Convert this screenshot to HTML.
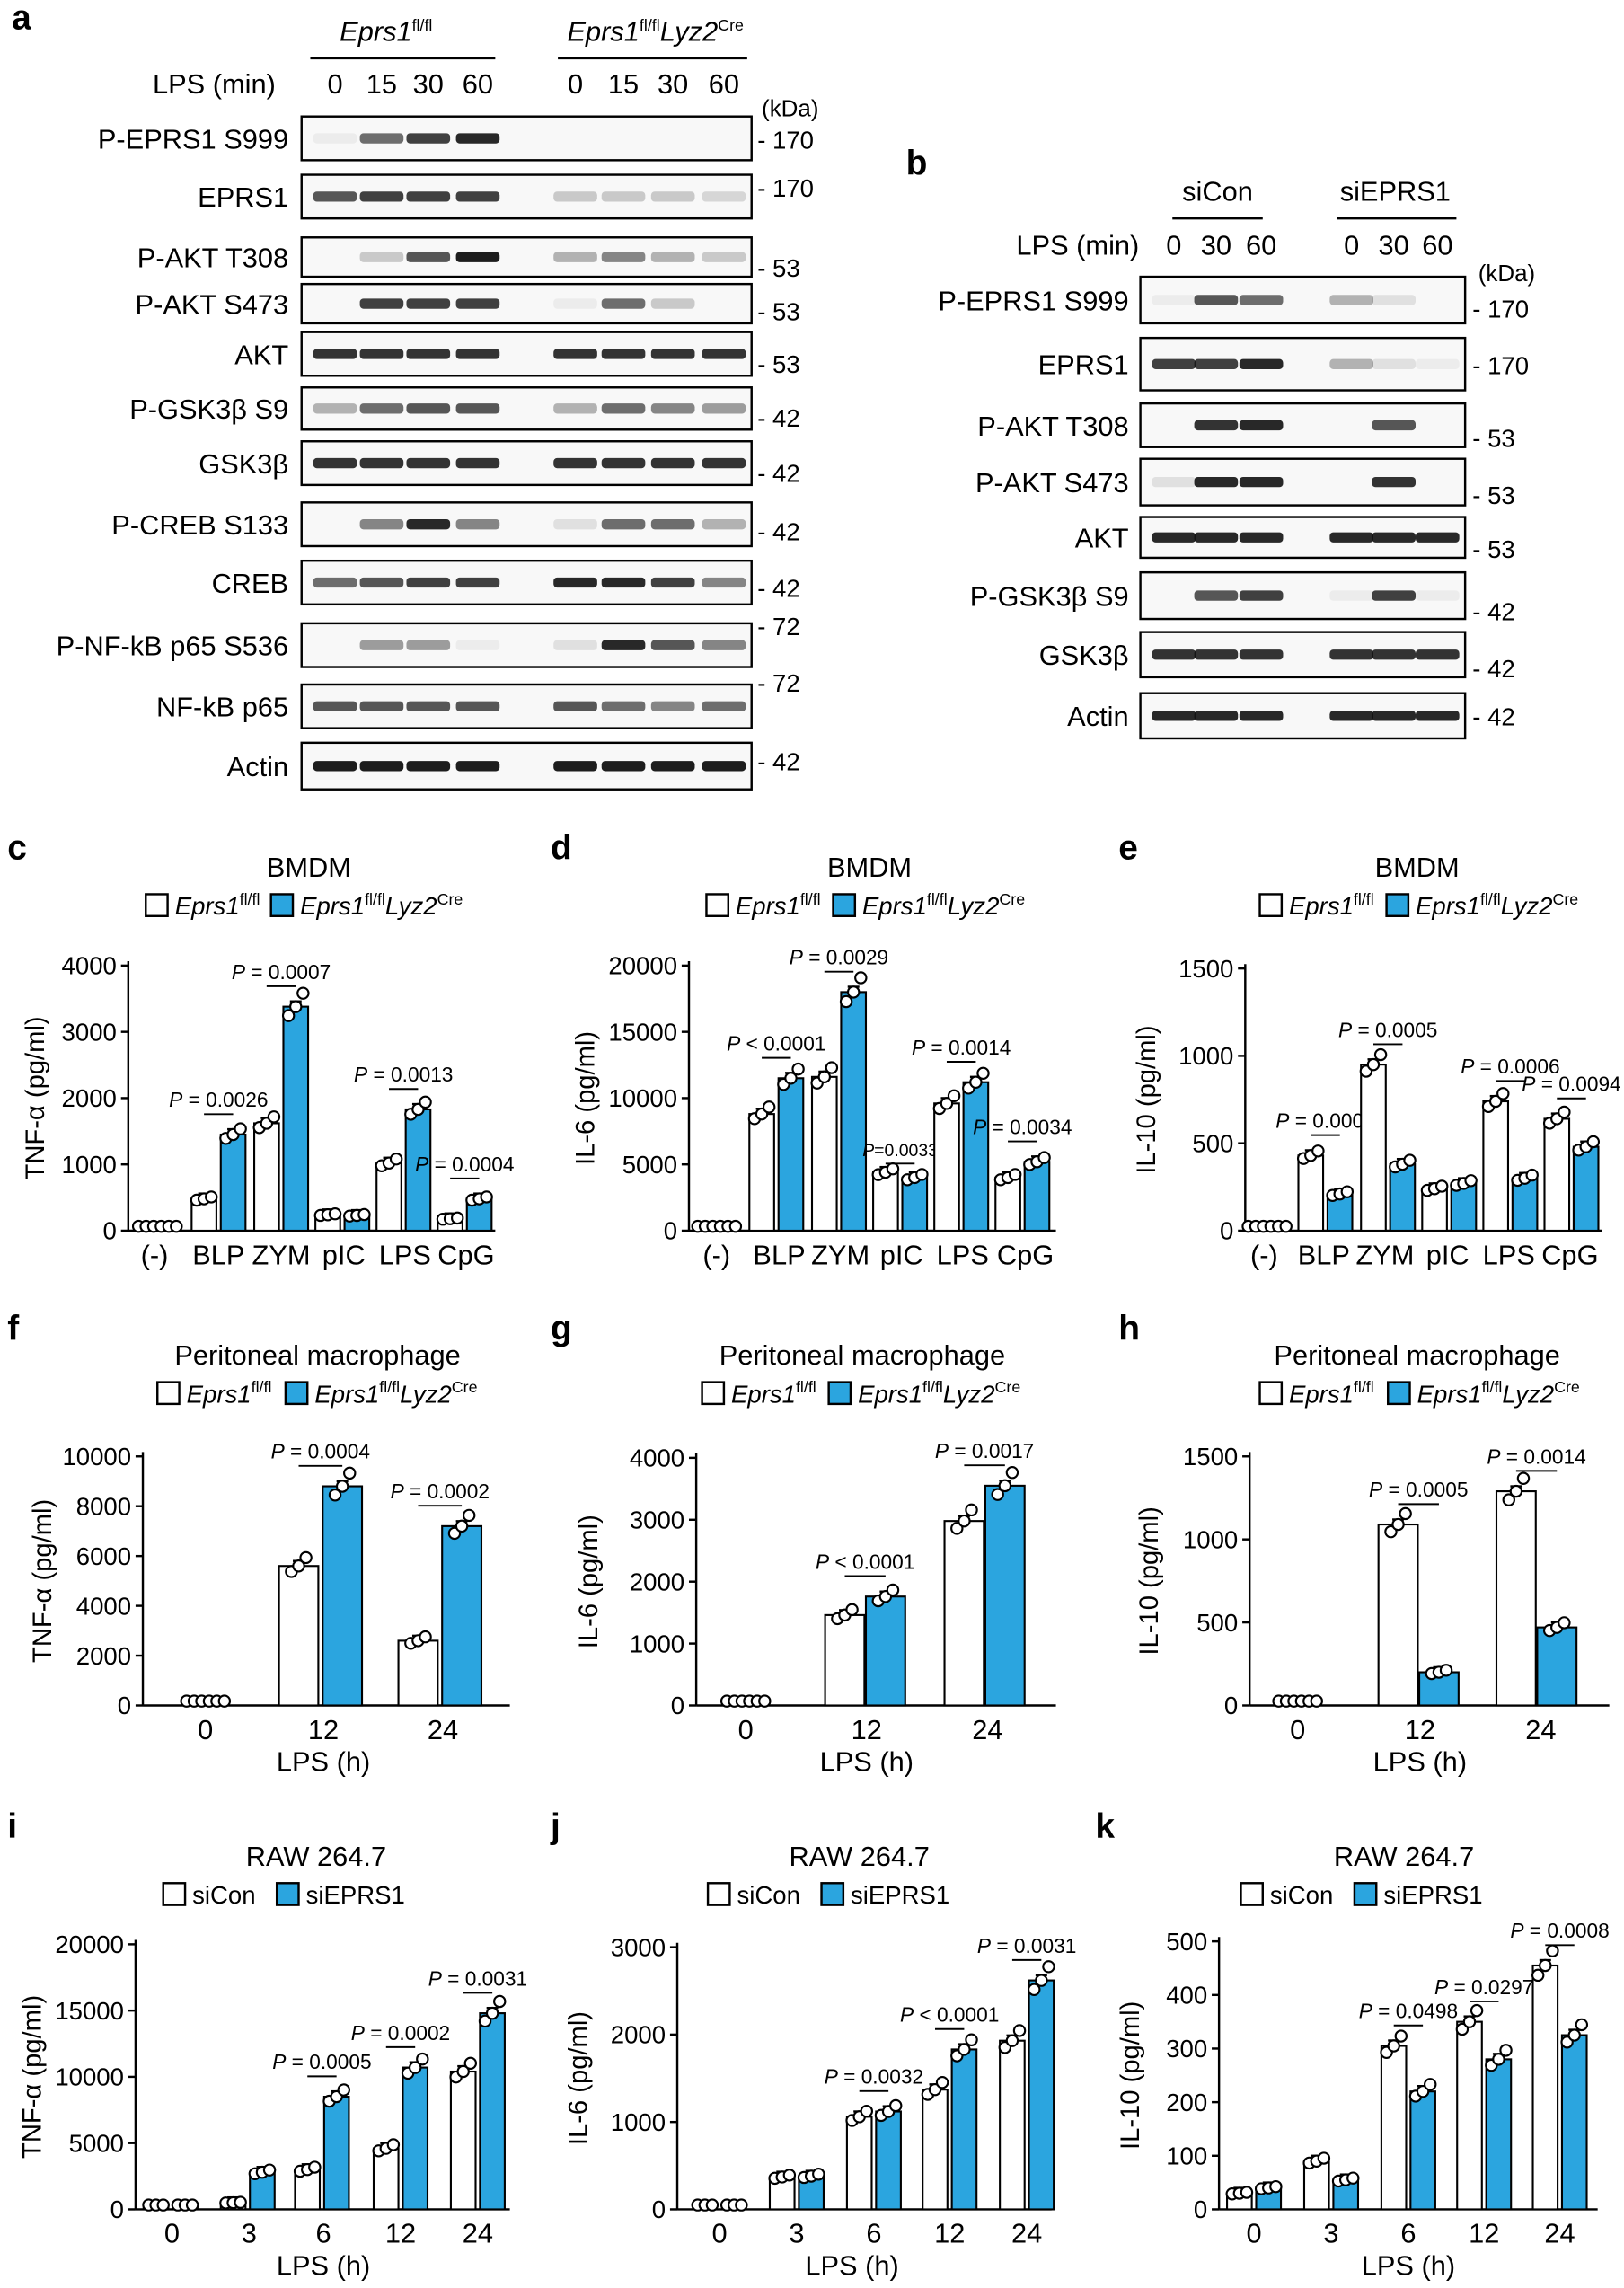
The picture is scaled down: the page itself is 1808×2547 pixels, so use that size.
<!DOCTYPE html>
<html><head><meta charset="utf-8"><style>html,body{margin:0;padding:0;background:#fff}svg{display:block}</style></head>
<body>
<svg id="s" xmlns="http://www.w3.org/2000/svg" width="1808" height="2547" viewBox="0 0 1115 1571" font-family="Liberation Sans, Arial, sans-serif">
<rect width="1115" height="1571" fill="#fff"/>
</svg>
<script>
const S=document.getElementById('s');let h='';
const BLUE='#2ba5df';
function T(x,y,t,o){o=o||{};h+=`<text x="${x}" y="${y}" font-size="${o.s||19}" text-anchor="${o.a||'start'}" ${o.w?'font-weight="bold"':''} ${o.i?'font-style="italic"':''} ${o.r?`transform="rotate(-90 ${x} ${y})"`:''}>${t}</text>`;}
function L(x1,y1,x2,y2,w){h+=`<line x1="${x1}" y1="${y1}" x2="${x2}" y2="${y2}" stroke="#000" stroke-width="${w||1.5}"/>`;}
function R(x,y,w,hh,f,sw){h+=`<rect x="${x}" y="${y}" width="${w}" height="${hh}" fill="${f}" stroke="#000" stroke-width="${sw||1.3}"/>`;}
function C(x,y){h+=`<circle cx="${x}" cy="${y}" r="3.8" fill="#fff" stroke="#000" stroke-width="1.3"/>`;}
const EP='<tspan font-style="italic">Eprs1</tspan><tspan font-size="11" dy="-7">fl/fl</tspan>';
const EPL='<tspan font-style="italic">Eprs1</tspan><tspan font-size="11" dy="-7">fl/fl</tspan><tspan font-style="italic" dy="7">Lyz2</tspan><tspan font-size="11" dy="-7">Cre</tspan>';
[['a',8,20],['b',622,120],['c',5,590],['d',378,590],['e',768,590],['f',5,920],['g',378,920],['h',768,920],['i',5,1262],['j',378,1262],['k',752,1262]].forEach(p=>T(p[1],p[2],p[0],{s:24,w:1}));
function row(x1,x2,y1,y2,lanes,int,label,lx){R(x1,y1,x2-x1,y2-y1,'#f8f8f8',1.5);const cy=(y1+y2)/2;
 lanes.forEach((lx2,i)=>{const v=int[i];if(v>0.02)h+=`<rect x="${lx2-15}" y="${cy-3.5}" width="30" height="7" rx="2.5" fill="#111" opacity="${v}"/>`;});
 T(lx,cy+7,label,{a:'end',s:19});}
const la=[230,262,294,328,395,428,462,497];
T(265,28,EP,{a:'middle',s:19});L(213,40,340,40);
T(450,28,EPL,{a:'middle',s:19});L(383,40,513,40);
T(147,64,'LPS (min)',{a:'middle'});
['0','15','30','60','0','15','30','60'].forEach((t,i)=>T(la[i],64,t,{a:'middle'}));
const ra=[['P-EPRS1 S999',80,110,[.05,.6,.8,.9,0,0,0,0]],['EPRS1',120,150,[.7,.8,.8,.8,.2,.2,.2,.15]],['P-AKT T308',163,190,[0,.2,.7,.95,.3,.5,.3,.2]],['P-AKT S473',195,222,[0,.8,.8,.8,.05,.6,.2,0]],['AKT',228,258,[.85,.85,.85,.85,.85,.85,.85,.85]],['P-GSK3β S9',266,295,[.3,.6,.7,.7,.3,.6,.5,.4]],['GSK3β',303,333,[.85,.85,.85,.85,.85,.85,.85,.85]],['P-CREB S133',345,375,[0,.5,.9,.5,.1,.6,.6,.3]],['CREB',385,415,[.6,.7,.8,.8,.9,.9,.8,.5]],['P-NF-kB p65 S536',428,458,[0,.4,.4,.05,.1,.9,.7,.5]],['NF-kB p65',470,500,[.7,.7,.7,.7,.7,.6,.5,.6]],['Actin',510,542,[.95,.95,.95,.95,.95,.95,.95,.95]]];
ra.forEach(r=>row(207,516,r[1],r[2],la,r[3],r[0],198));
T(523,80,'(kDa)',{s:16});
[['- 170',102],['- 170',135],['- 53',190],['- 53',220],['- 53',256],['- 42',293],['- 42',331],['- 42',371],['- 42',410],['- 72',436],['- 72',475],['- 42',529]].forEach(k=>T(520,k[1],k[0],{s:17}));
const lb=[806,835,866,928,957,987];
T(836,138,'siCon',{a:'middle'});L(805,150,867,150);
T(958,138,'siEPRS1',{a:'middle'});L(918,150,1000,150);
T(740,175,'LPS (min)',{a:'middle'});
['0','30','60','0','30','60'].forEach((t,i)=>T(lb[i],175,t,{a:'middle'}));
const rb=[['P-EPRS1 S999',190,222,[.05,.7,.6,.3,.1,0]],['EPRS1',232,268,[.8,.8,.9,.3,.1,.05]],['P-AKT T308',277,307,[0,.85,.9,0,.7,0]],['P-AKT S473',315,347,[.1,.9,.9,0,.85,0]],['AKT',355,383,[.9,.9,.9,.9,.9,.9]],['P-GSK3β S9',393,425,[0,.7,.8,.05,.8,.05]],['GSK3β',434,465,[.85,.85,.85,.85,.85,.85]],['Actin',476,507,[.9,.9,.9,.9,.9,.9]]];
rb.forEach(r=>row(783,1006,r[1],r[2],lb,r[3],r[0],775));
T(1015,193,'(kDa)',{s:16});
[['- 170',218],['- 170',257],['- 53',307],['- 53',346],['- 53',383],['- 42',426],['- 42',465],['- 42',498]].forEach(k=>T(1011,k[1],k[0],{s:17}));
function chart(o){const {ax,yT,y0,max,ticks,groups,bw,off,xl,xly,title,tx,ty,leg,ylab,yl}=o;
 const Y=v=>y0-(v/max)*(y0-yT);
 T(tx,ty,title,{a:'middle'});
 const lx=o.lx,ly=ty+26;R(lx,ly-14,15,15,'#fff',1.5);T(lx+20,ly,leg[0],{s:17});R(o.lx2,ly-14,15,15,BLUE,1.5);T(o.lx2+20,ly,leg[1],{s:17});
 L(ax,yT-3,ax,y0);
 ticks.forEach(t=>{const y=Y(t);L(ax-5,y,ax,y);T(ax-8,y+6,t,{a:'end',s:17});});
 T(yl,(yT+y0)/2,ylab,{a:'middle',r:1,s:18});
 L(ax,y0,o.xend,y0);
 groups.forEach(g=>{
  if(g.none){[0,1,2,3,4,5].forEach(i=>C(g.cx-13+i*5.2,y0-3));return;}
  const xw=g.cx-off,xb=g.cx+off;
  [[xw,g.w,'#fff'],[xb,g.b,BLUE]].forEach(([x,v,f])=>{const y=Y(v);
   if(y0-y>0.5)R(x-bw/2,y,bw,y0-y,f,1.3);
   const e=(y0-yT)*0.02;L(x,y-e,x,y);L(x-4,y-e,x+4,y-e);
   const sp=[-v*0.04,v*0.0,v*0.06];const dx=[-5,0,5];
   dx.forEach((d,i)=>{let yy=Y(v+sp[i]);if(yy>y0-3)yy=y0-3;C(x+d,yy);});
  });
  if(g.p){const yl2=Y(Math.max(g.w,g.b))-(g.pd||14);L(xw,yl2,xb,yl2,1.2);T(g.cx,yl2-5,g.p,{a:'middle',s:g.ps||14});}
 });
 xl.forEach(l=>T(l[1],xly,l[0],{a:'middle',s:19}));
 if(o.xt)T(o.xtx,xly+22,o.xt,{a:'middle',s:19});
}
const legE=[EP,EPL],legS=['siCon','siEPRS1'];
const P=s=>'<tspan font-style="italic">P</tspan>'+s;
chart({ax:88,yT:663,y0:845,max:4000,ticks:[0,1000,2000,3000,4000],bw:17,off:10,xend:340,title:'BMDM',tx:212,ty:602,leg:legE,lx:100,lx2:186,ylab:'TNF-α (pg/ml)',yl:30,xly:868,
 groups:[{cx:108,none:1},{cx:150,w:480,b:1450,p:P(' = 0.0026')},{cx:193,w:1620,b:3380,p:P(' = 0.0007')},{cx:235,w:240,b:230},{cx:277,w:1020,b:1830,p:P(' = 0.0013')},{cx:319,w:180,b:480,p:P(' = 0.0004')}],
 xl:[['(-)',106],['BLP',150],['ZYM',193],['pIC',236],['LPS',278],['CpG',320]]});
chart({ax:473,yT:663,y0:845,max:20000,ticks:[0,5000,10000,15000,20000],bw:17,off:10,xend:725,title:'BMDM',tx:597,ty:602,leg:legE,lx:485,lx2:572,ylab:'IL-6 (pg/ml)',yl:408,xly:868,
 groups:[{cx:492,none:1},{cx:533,w:8800,b:11500,p:P(' &lt; 0.0001')},{cx:576,w:11600,b:18000,p:P(' = 0.0029')},{cx:618,w:4400,b:4000,p:P('=0.0033'),ps:12,pd:6},{cx:660,w:9600,b:11200,p:P(' = 0.0014')},{cx:702,w:4000,b:5200,p:P(' = 0.0034')}],
 xl:[['(-)',492],['BLP',535],['ZYM',577],['pIC',619],['LPS',661],['CpG',704]]});
chart({ax:855,yT:665,y0:845,max:1500,ticks:[0,500,1000,1500],bw:17,off:10,xend:1100,title:'BMDM',tx:973,ty:602,leg:legE,lx:865,lx2:952,ylab:'IL-10 (pg/ml)',yl:793,xly:868,
 groups:[{cx:870,none:1},{cx:910,w:430,b:210,p:P(' = 0.0006')},{cx:953,w:950,b:380,p:P(' = 0.0005')},{cx:995,w:240,b:270},{cx:1037,w:740,b:300,p:P(' = 0.0006')},{cx:1079,w:640,b:480,p:P(' = 0.0094')}],
 xl:[['(-)',868],['BLP',909],['ZYM',951],['pIC',994],['LPS',1036],['CpG',1078]]});
const xlf=(a,b,c)=>[['0',a],['12',b],['24',c]];
chart({ax:98,yT:1000,y0:1171,max:10000,ticks:[0,2000,4000,6000,8000,10000],bw:27,off:15,xend:350,title:'Peritoneal macrophage',tx:218,ty:937,leg:legE,lx:108,lx2:196,ylab:'TNF-α (pg/ml)',yl:35,xly:1194,xt:'LPS (h)',xtx:222,
 groups:[{cx:141,none:1},{cx:220,w:5600,b:8800,p:P(' = 0.0004')},{cx:302,w:2600,b:7200,p:P(' = 0.0002')}],xl:xlf(141,222,304)});
chart({ax:478,yT:1001,y0:1171,max:4000,ticks:[0,1000,2000,3000,4000],bw:27,off:14,xend:725,title:'Peritoneal macrophage',tx:592,ty:937,leg:legE,lx:482,lx2:569,ylab:'IL-6 (pg/ml)',yl:410,xly:1194,xt:'LPS (h)',xtx:595,
 groups:[{cx:512,none:1},{cx:594,w:1460,b:1760,p:P(' &lt; 0.0001')},{cx:676,w:2980,b:3550,p:P(' = 0.0017')}],xl:xlf(512,595,678)});
chart({ax:858,yT:1000,y0:1171,max:1500,ticks:[0,500,1000,1500],bw:27,off:14,xend:1105,title:'Peritoneal macrophage',tx:973,ty:937,leg:legE,lx:865,lx2:953,ylab:'IL-10 (pg/ml)',yl:795,xly:1194,xt:'LPS (h)',xtx:975,
 groups:[{cx:891,none:1},{cx:974,w:1090,b:200,p:P(' = 0.0005')},{cx:1055,w:1290,b:470,p:P(' = 0.0014')}],xl:xlf(891,975,1058)});
const xli=(a)=>['0','3','6','12','24'].map((t,i)=>[t,a[i]]);
chart({ax:93,yT:1335,y0:1517,max:20000,ticks:[0,5000,10000,15000,20000],bw:17,off:10,xend:350,title:'RAW 264.7',tx:217,ty:1281,leg:legS,lx:112,lx2:190,ylab:'TNF-α (pg/ml)',yl:28,xly:1540,xt:'LPS (h)',xtx:222,
 groups:[{cx:117,w:100,b:150},{cx:170,w:500,b:2800},{cx:221,w:3000,b:8500,p:P(' = 0.0005')},{cx:275,w:4600,b:10700,p:P(' = 0.0002')},{cx:328,w:10400,b:14800,p:P(' = 0.0031')}],xl:xli([118,171,222,275,328])});
chart({ax:465,yT:1337,y0:1517,max:3000,ticks:[0,1000,2000,3000],bw:17,off:10,xend:722,title:'RAW 264.7',tx:590,ty:1281,leg:legS,lx:486,lx2:564,ylab:'IL-6 (pg/ml)',yl:403,xly:1540,xt:'LPS (h)',xtx:585,
 groups:[{cx:494,w:5,b:5},{cx:547,w:370,b:380},{cx:600,w:1060,b:1120,p:P(' = 0.0032')},{cx:652,w:1370,b:1830,p:P(' &lt; 0.0001')},{cx:705,w:1930,b:2620,p:P(' = 0.0031')}],xl:xli([494,547,600,652,705])});
chart({ax:837,yT:1333,y0:1517,max:500,ticks:[0,100,200,300,400,500],bw:17,off:10,xend:1097,title:'RAW 264.7',tx:964,ty:1281,leg:legS,lx:852,lx2:930,ylab:'IL-10 (pg/ml)',yl:782,xly:1540,xt:'LPS (h)',xtx:967,
 groups:[{cx:861,w:30,b:40},{cx:914,w:90,b:55},{cx:967,w:305,b:220,p:P(' = 0.0498')},{cx:1019,w:350,b:280,p:P(' = 0.0297')},{cx:1071,w:455,b:325,p:P(' = 0.0008')}],xl:xli([861,914,967,1019,1071])});
S.insertAdjacentHTML('beforeend',h);
</script>
</body></html>
